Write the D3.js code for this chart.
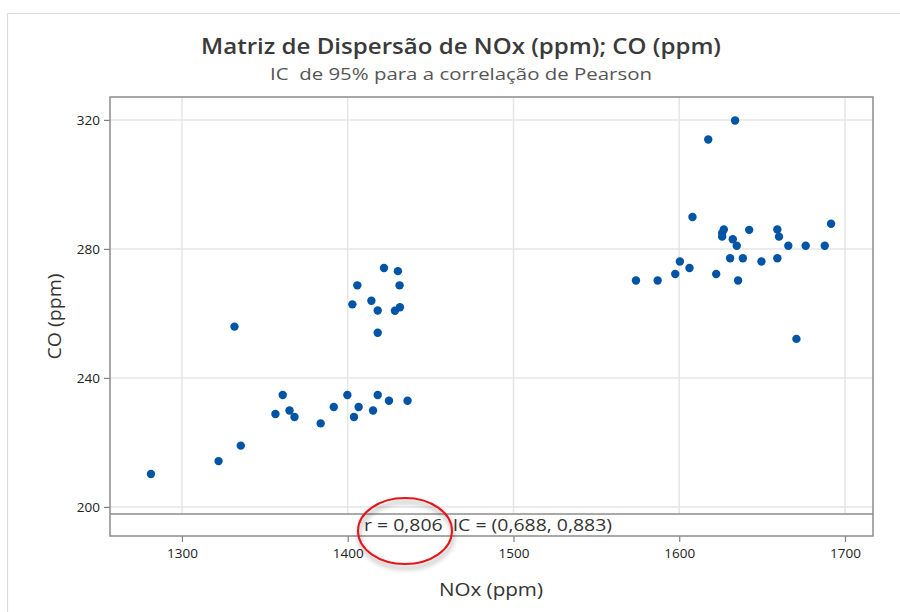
<!DOCTYPE html>
<html>
<head>
<meta charset="utf-8">
<script src="https://cdn.jsdelivr.net/npm/d3@7"></script>
<style>
  html, body { margin: 0; padding: 0; background: #fff; }
  svg { display: block; font-family: "Open Sans", "Noto Sans", sans-serif; }
</style>
</head>
<body>
<svg id="chart" width="900" height="612"></svg>
<script>
// ---- data ----
const noxValues = [
  1281.3, 1322.1, 1335.5, 1331.7, 1356.4, 1360.8, 1364.9, 1367.9, 1383.7, 1391.6,
  1399.8, 1403.8, 1406.6, 1415.3, 1418.1, 1424.9, 1436.1,
  1421.9, 1430.3, 1405.8, 1431.3, 1402.8, 1414.3, 1418.1, 1428.5, 1431.5, 1418.1,
  1633.7, 1617.5, 1608.0, 1691.6, 1626.9, 1625.9, 1625.9, 1642.2, 1659.2, 1660.2,
  1632.3, 1634.7, 1665.8, 1676.3, 1687.8, 1630.7, 1638.4, 1649.6, 1659.2, 1600.4,
  1606.2, 1597.6, 1622.3, 1573.9, 1587.0, 1635.5, 1670.7
];
const coValues = [
  210.2, 214.2, 219.0, 255.9, 228.8, 234.7, 229.9, 227.9, 225.9, 231.0,
  234.7, 227.9, 231.0, 229.9, 234.7, 232.9, 232.9,
  274.1, 273.1, 268.7, 268.7, 262.8, 263.9, 260.9, 260.8, 261.9, 254.0,
  319.8, 313.9, 289.9, 287.8, 286.0, 284.9, 283.8, 285.9, 286.0, 283.8,
  283.0, 281.0, 281.0, 281.0, 281.0, 277.1, 277.1, 276.1, 277.1, 276.1,
  274.1, 272.2, 272.2, 270.2, 270.2, 270.2, 252.1
];
const xTicks = [1300, 1400, 1500, 1600, 1700];
const yTicks = [200, 240, 280, 320];
const titleText = "Matriz de Dispersão de NOx (ppm); CO (ppm)";
const subtitleText = "IC  de 95% para a correlação de Pearson";
const xLabel = "NOx (ppm)";
const yLabel = "CO (ppm)";
const statText = "r = 0,806  IC = (0,688, 0,883)";

// ---- layout ----
const svg = d3.select("#chart");
const pLeft = 110, pRight = 873, pTop = 97, pSep = 514, pBottom = 536;

const x = d3.scaleLinear().domain([1256.6, 1716.9]).range([pLeft, pRight]);
const y = d3.scaleLinear().domain([197.8, 327.1]).range([pSep, pTop]);

// outer light frame (document border)
svg.append("path")
  .attr("d", `M7.5,612 L7.5,13.5 L900,13.5`)
  .attr("fill", "none").attr("stroke", "#dcdcdc").attr("stroke-width", 1.2);

// drop-shadow filter for the highlight ellipse
const defs = svg.append("defs");
const f = defs.append("filter").attr("id", "shadow")
  .attr("x", "-30%").attr("y", "-30%").attr("width", "160%").attr("height", "170%");
f.append("feGaussianBlur").attr("in", "SourceAlpha").attr("stdDeviation", 2.5).attr("result", "b");
f.append("feOffset").attr("in", "b").attr("dx", 1).attr("dy", 4).attr("result", "o");
f.append("feComponentTransfer").attr("in", "o").attr("result", "o2")
  .append("feFuncA").attr("type", "linear").attr("slope", 0.4);
const fm = f.append("feMerge");
fm.append("feMergeNode").attr("in", "o2");
fm.append("feMergeNode").attr("in", "SourceGraphic");

// gridlines
const grid = svg.append("g");
grid.selectAll("line.v").data(xTicks).join("line")
  .attr("x1", d => x(d)).attr("x2", d => x(d))
  .attr("y1", pTop).attr("y2", pSep)
  .attr("stroke", "#e6e6e6").attr("stroke-width", 1.5);
grid.selectAll("line.h").data(yTicks).join("line")
  .attr("x1", pLeft).attr("x2", pRight)
  .attr("y1", d => y(d)).attr("y2", d => y(d))
  .attr("stroke", "#e6e6e6").attr("stroke-width", 1.5);

// axes
const yAxis = svg.append("g").attr("transform", `translate(${pLeft},0)`)
  .call(d3.axisLeft(y).tickValues(yTicks).tickFormat(d3.format("d")).tickSize(6).tickPadding(4));
const xAxis = svg.append("g").attr("transform", `translate(0,${pBottom})`)
  .call(d3.axisBottom(x).tickValues(xTicks).tickFormat(d3.format("d")).tickSize(6).tickPadding(6));
[yAxis, xAxis].forEach(a => {
  a.select(".domain").remove();
  a.selectAll(".tick line").attr("stroke", "#808080").attr("stroke-width", 1.2);
  a.selectAll(".tick text").attr("fill", "#222").style("font-size", "13.5px")
    .style("font-family", "'Open Sans', sans-serif");
});

// frame and separator
svg.append("rect").attr("x", pLeft).attr("y", pTop)
  .attr("width", pRight - pLeft).attr("height", pBottom - pTop)
  .attr("fill", "none").attr("stroke", "#8c8c8c").attr("stroke-width", 1.5);
svg.append("line").attr("x1", pLeft).attr("x2", pRight)
  .attr("y1", pSep).attr("y2", pSep)
  .attr("stroke", "#8c8c8c").attr("stroke-width", 1.5);

// points
svg.append("g").selectAll("circle")
  .data(noxValues.map((v, i) => [v, coValues[i]]))
  .join("circle")
  .attr("cx", d => x(d[0])).attr("cy", d => y(d[1]))
  .attr("r", 4.2).attr("fill", "#0054a6");

// statistic text
svg.append("text").attr("x", 488).attr("y", 531)
  .attr("text-anchor", "middle").attr("fill", "#333")
  .attr("textLength", 248).attr("lengthAdjust", "spacingAndGlyphs")
  .style("white-space", "pre")
  .style("font-size", "16px").text(statText);

// titles
svg.append("text").attr("x", 461).attr("y", 54)
  .attr("text-anchor", "middle").attr("fill", "#3a3a3a")
  .attr("textLength", 520).attr("lengthAdjust", "spacingAndGlyphs")
  .style("font-size", "21px").style("font-weight", 600).text(titleText);
svg.append("text").attr("x", 461).attr("y", 80)
  .attr("text-anchor", "middle").attr("fill", "#555")
  .attr("textLength", 382).attr("lengthAdjust", "spacingAndGlyphs")
  .style("white-space", "pre")
  .style("font-size", "17px").text(subtitleText);

// axis labels
svg.append("text").attr("x", 491).attr("y", 596)
  .attr("text-anchor", "middle").attr("fill", "#333")
  .attr("textLength", 104).attr("lengthAdjust", "spacingAndGlyphs")
  .style("font-size", "18px").text(xLabel);
svg.append("text")
  .attr("transform", `translate(61,${(pTop + pBottom) / 2}) rotate(-90)`)
  .attr("text-anchor", "middle").attr("fill", "#333")
  .attr("textLength", 86).attr("lengthAdjust", "spacingAndGlyphs")
  .style("font-size", "18px").text(yLabel);

// red highlight ellipse
svg.append("ellipse").attr("cx", 405).attr("cy", 531)
  .attr("rx", 47).attr("ry", 33)
  .attr("fill", "none").attr("stroke", "#e3171c").attr("stroke-width", 2)
  .attr("filter", "url(#shadow)");
</script>
</body>
</html>
